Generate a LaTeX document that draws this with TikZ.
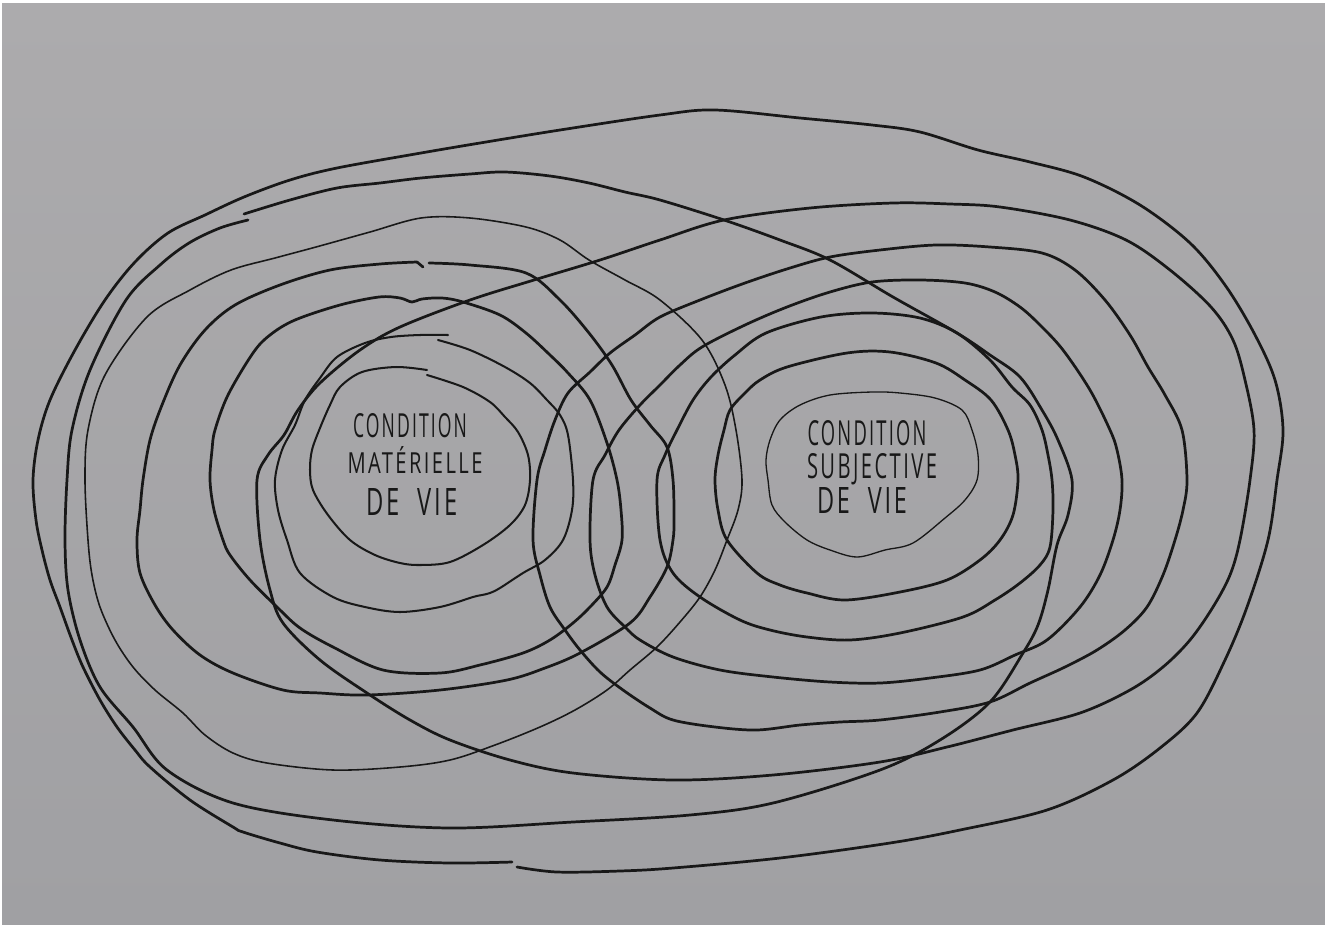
\documentclass[tikz,border=0pt]{standalone}
\usepackage{fontspec}
\usepackage{graphicx}
\newfontfamily\handfont[LetterSpace=12]{Open Sans}
\definecolor{inkc}{HTML}{181818}
\definecolor{papertop}{HTML}{ACABAD}
\definecolor{paperbot}{HTML}{A0A0A3}
\tikzset{
  ink/.style={draw=inkc, line cap=round, line join=round},
  heavy/.style={ink, line width=1.55pt},
  medium/.style={ink, line width=1.15pt},
  light/.style={ink, line width=0.75pt},
  label/.style={inner sep=0pt, anchor=base, text=inkc, font=\handfont},
}
\newlength{\pxu}
\setlength{\pxu}{0.02cm}
\newcommand{\hw}[3]{\resizebox{#1\pxu}{#2\pxu}{#3}}
\begin{document}
\begin{tikzpicture}[x=0.02cm, y=-0.02cm]
\useasboundingbox (0,0) rectangle (1325,924);
\fill[white] (0,0) rectangle (1325,924);
\shade[top color=papertop, bottom color=paperbot] (2,3) rectangle (1325,924);

% O1 outermost
\draw[heavy] plot[smooth, tension=0.55] coordinates {(517,867) (557,872) (620,871) (673,868) (780,858) (890,843) (960,830) (1047,810) (1113,780) (1160,748) (1197,713) (1225,660) (1247,607) (1268,540) (1277,480) (1283,430) (1275,380) (1254,333) (1225,285) (1190,243) (1140,205) (1084,177) (1030,162) (978,150) (920,132) (872,125) (800,118) (715,110) (660,115) (560,130) (480,143) (421,153) (337,168) (290,180) (244,197) (205,215) (168,233) (135,262) (105,300) (75,350) (50,400) (38,440) (33,480) (36,520) (42,550) (50,580) (60,607) (72,640) (83,667) (100,700) (117,727) (135,750) (150,767) (190,800) (233,827) (243,832) (280,843) (317,852) (380,860) (450,863) (512,862)};

% A6 big left loop reaching right
\draw[heavy] plot[smooth, tension=0.55] coordinates {(244,214) (290,200) (337,188) (380,183) (421,178) (470,174) (505,172) (550,176) (589,183) (625,192) (660,200) (724,220) (780,240) (830,260) (893,297) (957,333) (990,355) (1020,377) (1042,410) (1058,440) (1072,480) (1068,515) (1057,545) (1048,590) (1038,625) (1023,653) (990,702) (940,740) (880,770) (773,803) (690,815) (573,822) (450,828) (333,820) (233,803) (167,770) (133,727) (100,687) (80,640) (68,590) (65,540) (67,480) (72,430) (90,370) (126,300) (160,265) (189,243) (220,228) (248,220)};

% A5 thin
\draw[ink, line width=0.9pt] plot[smooth cycle, tension=0.55] coordinates {(85,480) (88,430) (105,375) (147,317) (190,290) (231,270) (275,258) (316,247) (370,232) (421,218) (470,218) (526,227) (560,240) (589,260) (625,280) (660,300) (702,340) (725,385) (736,430) (742,480) (738,510) (727,540) (715,570) (700,597) (680,622) (657,647) (630,670) (607,690) (575,710) (540,727) (495,745) (450,760) (400,767) (333,770) (267,763) (233,753) (205,735) (183,713) (155,690) (133,667) (115,640) (100,607) (92,575) (88,540)};

% A4
\draw[heavy] plot[smooth, tension=0.55] coordinates {(429,263) (470,265) (526,273) (560,300) (589,333) (612,365) (631,400) (650,425) (667,447) (673,480) (674,520) (673,540) (667,567) (650,597) (630,623) (580,653) (545,668) (507,680) (440,690) (367,695) (320,693) (283,690) (233,673) (200,655) (173,630) (155,605) (140,573) (137,540) (140,510) (143,480) (150,440) (162,405) (180,365) (205,330) (235,305) (280,285) (330,270) (380,264) (417,262)};
\draw[heavy] (417,262) -- (423,267);

% A3
\draw[heavy] plot[smooth cycle, tension=0.55] coordinates {(442,298) (463,302) (500,315) (526,333) (550,355) (568,373) (590,400) (607,443) (617,480) (621,510) (622,540) (615,565) (607,587) (590,607) (573,623) (550,640) (523,653) (480,665) (440,673) (383,670) (333,647) (300,628) (277,607) (250,580) (230,555) (223,540) (214,510) (210,480) (212,450) (215,430) (228,395) (253,353) (270,335) (295,320) (340,305) (379,297) (400,298) (412,302) (422,299)};

% A2
\draw[medium] plot[smooth, tension=0.55] coordinates {(438,340) (470,350) (505,367) (530,383) (547,400) (560,415) (568,435) (573,480) (572,510) (563,540) (545,560) (523,573) (500,588) (490,593) (482,595) (473,597) (440,607) (400,612) (365,607) (333,597) (300,573) (287,540) (278,510) (275,480) (282,450) (295,425) (305,400) (320,378) (337,357) (365,343) (391,337) (420,335) (448,335)};

% A1
\draw[medium] plot[smooth, tension=0.55] coordinates {(427,375) (463,387) (490,402) (505,417) (518,432) (528,455) (530,480) (525,505) (510,525) (483,545) (450,562) (420,565) (400,563) (375,555) (350,540) (328,515) (313,490) (310,470) (312,450) (320,428) (330,405) (340,387) (362,372) (396,367) (427,370)};

% B6
\draw[heavy] plot[smooth cycle, tension=0.55] coordinates {(257,480) (260,540) (270,590) (283,623) (320,660) (367,693) (410,720) (450,740) (510,760) (573,773) (673,780) (773,775) (880,762) (947,747) (1013,730) (1080,713) (1130,690) (1163,667) (1190,640) (1213,607) (1230,575) (1240,540) (1250,480) (1254,430) (1245,380) (1233,340) (1211,307) (1170,270) (1126,240) (1070,220) (1000,207) (950,204) (893,203) (810,208) (724,220) (660,240) (600,260) (534,280) (470,300) (400,327) (360,350) (320,383) (298,410) (284,435) (268,455)};

% B5
\draw[heavy] plot[smooth cycle, tension=0.55] coordinates {(537,480) (533,540) (540,575) (550,607) (565,630) (580,650) (600,672) (623,690) (650,708) (673,720) (715,727) (757,730) (800,725) (840,722) (880,720) (940,712) (990,702) (1030,683) (1065,667) (1097,650) (1125,630) (1147,607) (1163,575) (1175,540) (1183,510) (1187,480) (1182,430) (1165,395) (1148,367) (1130,335) (1105,300) (1075,270) (1042,253) (990,247) (936,245) (880,250) (830,257) (790,268) (745,283) (700,300) (660,317) (635,335) (610,353) (590,372) (568,393) (555,420) (545,450)};

% B4
\draw[heavy] plot[smooth cycle, tension=0.55] coordinates {(593,480) (590,540) (595,575) (607,607) (625,627) (640,640) (673,657) (720,670) (773,677) (830,682) (880,683) (930,678) (980,670) (1015,655) (1047,640) (1080,607) (1100,575) (1113,540) (1120,510) (1122,480) (1117,450) (1110,430) (1090,390) (1063,350) (1040,325) (1020,307) (995,292) (965,283) (920,280) (872,282) (830,292) (787,307) (745,325) (702,347) (680,365) (660,385) (640,405) (619,430) (605,455)};

% B3
\draw[heavy] plot[smooth cycle, tension=0.55] coordinates {(657,480) (660,540) (673,573) (700,597) (740,620) (770,630) (807,637) (850,640) (900,633) (963,617) (995,600) (1020,583) (1040,565) (1050,547) (1053,510) (1052,480) (1048,455) (1042,430) (1030,405) (1012,387) (990,360) (957,333) (920,318) (872,313) (821,317) (766,333) (735,355) (711,377) (693,400) (677,430) (665,455)};

% B2
\draw[heavy] plot[smooth cycle, tension=0.55] coordinates {(715,480) (718,510) (727,540) (757,573) (780,585) (807,593) (845,600) (900,592) (947,580) (980,560) (1000,540) (1013,515) (1018,480) (1015,455) (1008,430) (991,400) (965,380) (936,363) (890,352) (847,353) (787,367) (760,380) (745,393) (730,410) (724,430) (718,455)};

% B1 thin
\draw[light] plot[smooth cycle, tension=0.55] coordinates {(768,480) (772,505) (785,522) (807,540) (830,550) (857,557) (885,550) (913,543) (945,518) (965,500) (977,480) (978,455) (972,430) (962,410) (935,398) (900,393) (872,392) (830,395) (800,405) (780,420) (770,440) (766,460)};

% texts (anchored on their baselines)
\node[label] (lcond) at (410,437) {\hw{114}{24}{CONDITION}};
\node[label] (lmat) at (415,473) {\hw{135}{27}{MATÉRIELLE}};
\node[label] (lvie) at (412,515) {\hw{91}{27}{DE~~VIE}};
\node[label] (rcond) at (867,445) {\hw{119}{25}{CONDITION}};
\node[label] (rsub) at (872,478) {\hw{130}{25}{SUBJECTIVE}};
\node[label] (rvie) at (862,513) {\hw{90}{26}{DE~~VIE}};
\end{tikzpicture}
\end{document}
